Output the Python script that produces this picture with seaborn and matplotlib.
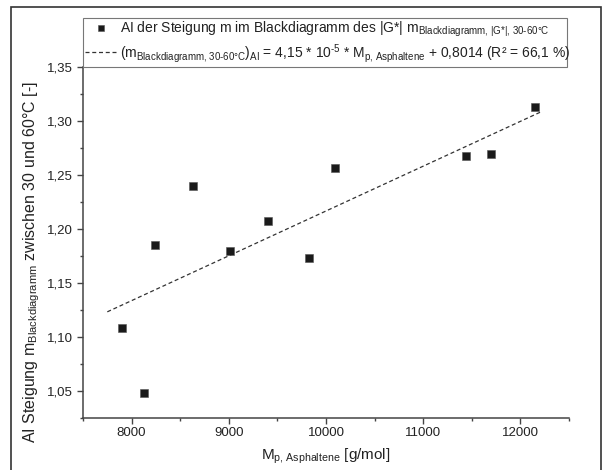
import numpy as np
import pandas as pd
import matplotlib
matplotlib.use("Agg")
import matplotlib.pyplot as plt
import seaborn as sns
from matplotlib.lines import Line2D
from matplotlib.patches import Rectangle
from matplotlib.ticker import FixedLocator, MultipleLocator

# ---- data ----
mp_asphaltene = [7901, 8127, 8243, 8627, 9014, 9401, 9826, 10093, 11443, 11693, 12153]
m_black = [1.108, 1.048, 1.185, 1.240, 1.179, 1.207, 1.173, 1.256, 1.267, 1.269, 1.313]
fit_slope = 4.15e-5
fit_intercept = 0.8014
fit_x_range = [7750, 12225]
x_ticks = [8000, 9000, 10000, 11000, 12000]
x_tick_labels = ["8000", "9000", "10000", "11000", "12000"]
y_ticks = [1.05, 1.10, 1.15, 1.20, 1.25, 1.30, 1.35]
y_tick_labels = ["1,05", "1,10", "1,15", "1,20", "1,25", "1,30", "1,35"]
legend_labels = [
    r"AI der Steigung m im Blackdiagramm des |G*| m$_{\text{Blackdiagramm, |G*|, 30-60°C}}$",
    r"(m$_{\text{Blackdiagramm, 30-60°C}}$)$_{\text{AI}}$ = 4,15 * 10$^{\text{-5}}$ * M$_{\text{p, Asphaltene}}$ + 0,8014 (R² = 66,1 %)",
]
x_label = r"M$_{\text{p, Asphaltene}}$ [g/mol]"
y_label = r"AI Steigung m$_{\text{Blackdiagramm}}$ zwischen 30 und 60°C [-]"

sns.set_theme(style="ticks")
plt.rcParams["font.family"] = ["Liberation Sans", "DejaVu Sans"]
plt.rcParams.update({
    "mathtext.fontset": "custom",
    "mathtext.rm": "Liberation Sans",
    "mathtext.it": "Liberation Sans:italic",
    "mathtext.bf": "Liberation Sans:bold",
    "mathtext.sf": "Liberation Sans",
    "mathtext.default": "regular",
})

W, H = 607, 470
fig = plt.figure(figsize=(W / 100, H / 100), dpi=100)
ax_l, ax_r, ax_t, ax_b = 83, 569, 66.7, 417.7
ax_w, ax_h = ax_r - ax_l, ax_b - ax_t
ax = fig.add_axes([ax_l / W, 1 - ax_b / H, ax_w / W, ax_h / H])

df = pd.DataFrame({"Mp": mp_asphaltene, "m": m_black})
fx = np.array(fit_x_range, dtype=float)
fit_df = pd.DataFrame({"Mp": fx, "m": fit_slope * fx + fit_intercept})

line_color = "#333333"
dash = (0, (3.2, 2.2))
sns.lineplot(data=fit_df, x="Mp", y="m", ax=ax, color=line_color, lw=0.9,
             linestyle=dash, legend=False)
sns.scatterplot(data=df, x="Mp", y="m", ax=ax, marker="s", s=27,
                color="#1a1a1a", edgecolor="#555555", linewidth=0.4,
                zorder=3, legend=False)

ax.set_xlim(7500, 12500)
ax.set_ylim(1.025, 1.35)
ax.xaxis.set_major_locator(FixedLocator(x_ticks))
ax.set_xticklabels(x_tick_labels)
ax.xaxis.set_minor_locator(MultipleLocator(500))
ax.yaxis.set_major_locator(FixedLocator(y_ticks))
ax.set_yticklabels(y_tick_labels)
ax.yaxis.set_minor_locator(MultipleLocator(0.025))

for s in ["top", "right"]:
    ax.spines[s].set_visible(False)
for s in ["left", "bottom"]:
    ax.spines[s].set_color("#444444")
    ax.spines[s].set_linewidth(1.1)
ax.tick_params(which="major", direction="out", length=4, width=1.0,
               color="#444444", labelsize=9.5, labelcolor="#222222", pad=3)
ax.tick_params(which="minor", direction="out", length=2, width=1.0, color="#444444")

ax.set_xlabel(x_label, fontsize=11, color="#222222")
ax.set_ylabel(y_label, fontsize=11.5, color="#222222")
ax.xaxis.set_label_coords(0.5, (ax_b - 447) / ax_h)
ax.yaxis.set_label_coords((42 - ax_l) / ax_w, (ax_b - 262) / ax_h)

handles = [
    Line2D([], [], marker="s", ls="none", color="#1a1a1a", markersize=5,
           markeredgecolor="#555555", markeredgewidth=0.4),
    Line2D([], [], ls=dash, color=line_color, lw=0.9),
]
leg = ax.legend(handles, legend_labels, loc="lower left",
                bbox_to_anchor=(0, 1.0, (567 - ax_l) / ax_w, 0.1),
                mode="expand", frameon=True, fancybox=False, framealpha=1,
                edgecolor="#777777", borderaxespad=0, fontsize=10,
                handlelength=2.3, handletextpad=0.25, borderpad=0.15,
                labelspacing=0.2)
leg.get_frame().set_linewidth(0.8)
for t in leg.get_texts():
    t.set_color("#222222")

fig.add_artist(Rectangle((10.7 / W, -0.05), (601 - 10.7) / W, 1.05 - 7.3 / H,
                         transform=fig.transFigure, fill=False,
                         ec="#333333", lw=1.2))

fig.savefig("out.png", dpi=100, facecolor="white")
